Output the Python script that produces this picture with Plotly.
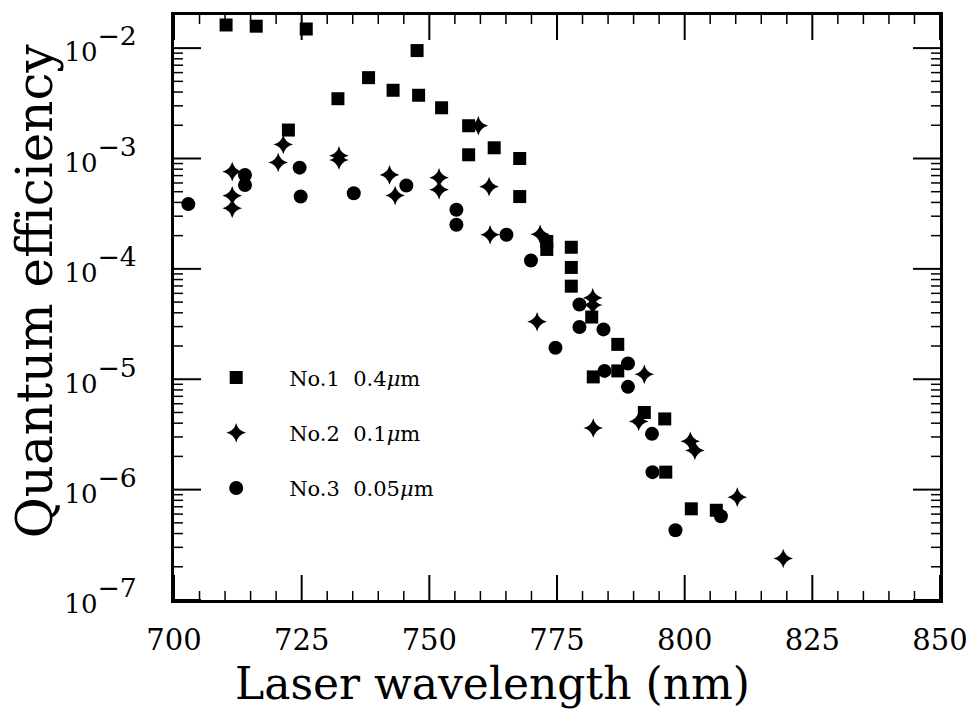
import math
import plotly.graph_objects as go

# Sample No.1 (0.4 um)
wl_no1 = [710.2, 716.1, 725.9, 747.6, 738.1, 742.9, 747.9, 732.1, 752.4, 722.4,
          757.7, 757.7, 762.7, 767.7, 767.7, 773.0, 773.0, 777.8, 777.8, 777.8,
          781.8, 786.9, 786.9, 782.1, 792.1, 796.1, 796.3, 801.3, 806.2]
qe_no1 = [1.62e-2, 1.58e-2, 1.49e-2, 9.5e-3, 5.4e-3, 4.15e-3, 3.74e-3, 3.48e-3, 2.88e-3, 1.81e-3,
          1.98e-3, 1.08e-3, 1.25e-3, 1.00e-3, 4.52e-4, 1.77e-4, 1.50e-4, 1.57e-4, 1.03e-4, 6.97e-5,
          3.66e-5, 2.07e-5, 1.19e-5, 1.05e-5, 5.0e-6, 4.37e-6, 1.44e-6, 6.7e-7, 6.5e-7]

# Sample No.2 (0.1 um)
wl_no2 = [711.4, 711.4, 711.4, 720.4, 721.4, 732.3, 732.3, 742.2, 743.3, 751.9,
          751.9, 759.6, 761.7, 761.9, 771.7, 771.1, 782.0, 782.0, 792.1, 782.1,
          791.0, 801.1, 802.0, 810.3, 819.3]
qe_no2 = [7.6e-4, 4.6e-4, 3.55e-4, 9.2e-4, 1.34e-3, 1.06e-3, 9.7e-4, 7.1e-4, 4.61e-4, 6.7e-4,
          5.2e-4, 1.98e-3, 5.56e-4, 2.04e-4, 2.06e-4, 3.32e-5, 5.46e-5, 4.7e-5, 1.11e-5, 3.62e-6,
          4.15e-6, 2.74e-6, 2.26e-6, 8.55e-7, 2.38e-7]

# Sample No.3 (0.05 um)
wl_no3 = [702.8, 713.9, 713.9, 724.6, 724.8, 735.2, 745.5, 755.3, 755.3, 765.1,
          769.9, 779.4, 779.4, 784.1, 774.7, 788.9, 784.3, 788.9, 793.6, 793.7,
          807.1, 798.2]
qe_no3 = [3.86e-4, 7.1e-4, 5.75e-4, 8.26e-4, 4.52e-4, 4.84e-4, 5.69e-4, 3.43e-4, 2.51e-4, 2.04e-4,
          1.19e-4, 4.76e-5, 2.97e-5, 2.83e-5, 1.93e-5, 1.39e-5, 1.19e-5, 8.53e-6, 3.2e-6, 1.44e-6,
          5.73e-7, 4.28e-7]

series_names = ["No.1  0.4<i>μ</i>m", "No.2  0.1<i>μ</i>m", "No.3  0.05<i>μ</i>m"]

x_major = [700, 725, 750, 775, 800, 825, 850]
y_exponents = [-7, -6, -5, -4, -3, -2]

FONT = "DejaVu Serif"
INK = "black"
X_RANGE = [700, 850]
Y_RANGE = [-7, -1.70]

y_major = [10.0 ** e for e in y_exponents]
y_ticktext = ["<span style='font-size:26px'>10</span><sup>\u2212%d</sup>" % (-e) for e in y_exponents]
y_minor = [k * 10.0 ** e for e in y_exponents for k in range(2, 10)]
x_minor = [v for v in range(700, 851, 5) if v not in x_major]

fig = go.Figure()
fig.add_trace(go.Scatter(
    x=wl_no1, y=qe_no1, mode="markers", name=series_names[0], legendgroup="a",
    marker=dict(symbol="square", size=13, color=INK, line=dict(width=0))))
fig.add_trace(go.Scatter(
    x=wl_no2, y=qe_no2, mode="markers", name=series_names[1], legendgroup="b",
    marker=dict(symbol="star-diamond", size=14, color=INK, line=dict(width=0))))
fig.add_trace(go.Scatter(
    x=wl_no3, y=qe_no3, mode="markers", name=series_names[2], legendgroup="c",
    marker=dict(symbol="circle", size=14, color=INK, line=dict(width=0))))

# Inward tick marks on all four sides of the frame
shapes = []


def x_tick(v, length, width):
    for anchor, sign in ((0, 1), (1, -1)):
        shapes.append(dict(type="line", xref="x", yref="y domain", x0=v, x1=v,
                           ysizemode="pixel", yanchor=anchor, y0=0, y1=sign * length,
                           line=dict(color=INK, width=width)))


def y_tick(v, length, width):
    frac = (math.log10(v) - Y_RANGE[0]) / (Y_RANGE[1] - Y_RANGE[0])
    if frac < 0 or frac > 1:
        return
    for anchor, sign in ((0, 1), (1, -1)):
        shapes.append(dict(type="line", xref="x domain", yref="y domain", y0=frac, y1=frac,
                           xsizemode="pixel", xanchor=anchor, x0=0, x1=sign * length,
                           line=dict(color=INK, width=width)))


for v in x_major:
    x_tick(v, 25, 2)
for v in x_minor:
    x_tick(v, 9, 1.5)
for v in y_major:
    y_tick(v, 27, 2)
for v in y_minor:
    y_tick(v, 9, 1.5)

fig.update_layout(
    width=980, height=710,
    margin=dict(l=174, r=28, t=13, b=110),
    paper_bgcolor="white", plot_bgcolor="white",
    font=dict(family=FONT, color=INK),
    showlegend=True,
    legend=dict(
        x=0.012, y=0.415, xanchor="left", yanchor="top",
        bgcolor="rgba(0,0,0,0)", borderwidth=0,
        font=dict(family=FONT, size=21, color=INK),
        itemwidth=96, tracegroupgap=25, itemsizing="trace",
    ),
    xaxis=dict(
        range=X_RANGE, tickvals=x_major, ticktext=[str(v) for v in x_major],
        showgrid=False, zeroline=False, ticks="",
        showline=True, linecolor=INK, linewidth=2.5, mirror=True,
        tickfont=dict(family=FONT, size=29, color=INK),
        ticklabelstandoff=12,
    ),
    yaxis=dict(
        type="log", range=Y_RANGE,
        tickvals=y_major, ticktext=y_ticktext,
        showgrid=False, zeroline=False, ticks="",
        showline=True, linecolor=INK, linewidth=2.5, mirror=True,
        tickfont=dict(family=FONT, size=38, color=INK),
        ticklabelstandoff=27,
    ),
    shapes=shapes,
    annotations=[
        dict(text="Laser wavelength (nm)", xref="paper", yref="paper",
             x=(497 - 174) / 778, y=-(684 - 600) / 587, xanchor="center", yanchor="middle",
             showarrow=False, font=dict(family=FONT, size=44, color=INK)),
        dict(text="Quantum efficiency", xref="paper", yref="paper", textangle=-90,
             x=-(174 - 33) / 778, y=(600 - 290) / 587, xanchor="center", yanchor="middle",
             showarrow=False, font=dict(family=FONT, size=50, color=INK)),
    ],
)

fig.write_html("out.html")
